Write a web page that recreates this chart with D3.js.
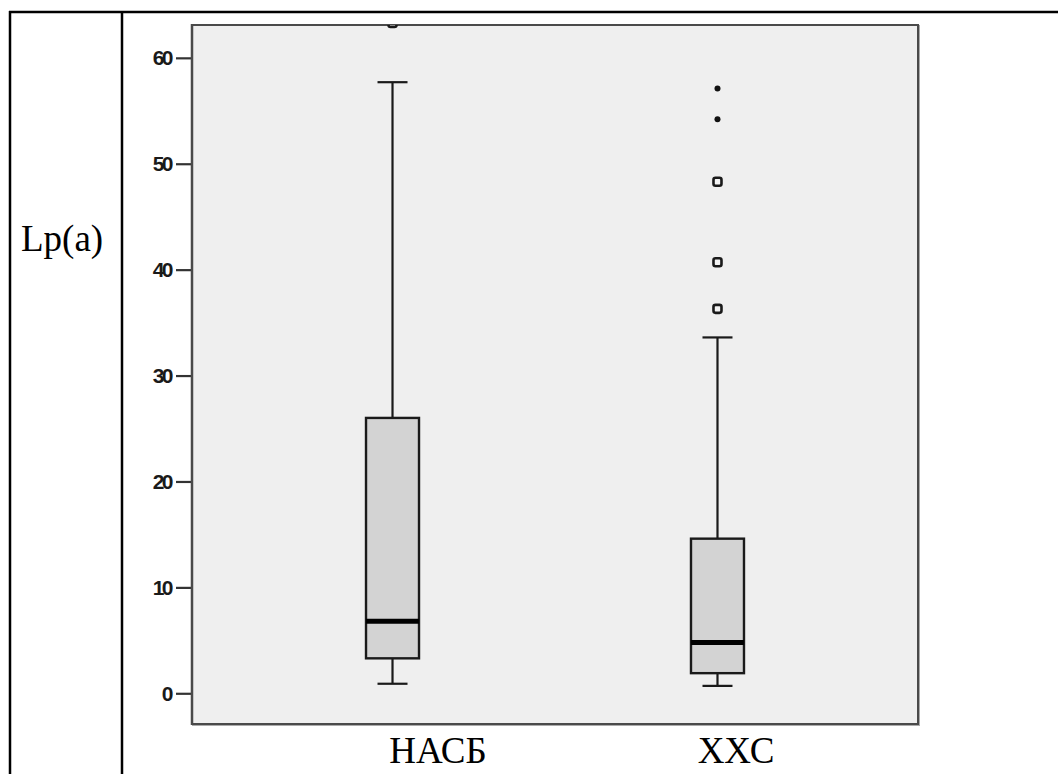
<!DOCTYPE html>
<html>
<head>
<meta charset="utf-8">
<script src="https://cdn.jsdelivr.net/npm/d3@7"></script>
<style>
  body { margin: 0; background: #fff; }
  svg { display: block; }
</style>
</head>
<body>
<svg id="chart" width="1058" height="774"></svg>
<script>
// data
var groups = ["НАСБ", "ХХС"];
var whiskerLow = [0.9, 0.7];
var q1 = [3.3, 1.9];
var median = [6.8, 4.8];
var q3 = [26.0, 14.6];
var whiskerHigh = [57.7, 33.6];
var outliers = [[63.3], [48.3, 40.7, 36.3]];   // circles
var extremes = [[], [57.1, 54.2]];             // stars
var yTicks = [0, 10, 20, 30, 40, 50, 60];

var svg = d3.select("#chart");

// table lines around the figure
svg.append("line").attr("x1", 9).attr("x2", 1058).attr("y1", 12).attr("y2", 12)
    .attr("stroke", "#000").attr("stroke-width", 2.5);
[10, 122].forEach(function(x) {
    svg.append("line").attr("x1", x).attr("x2", x).attr("y1", 11).attr("y2", 774)
        .attr("stroke", "#000").attr("stroke-width", 2.5);
});

svg.append("text")
    .attr("x", 21).attr("y", 251)
    .attr("font-family", "Liberation Serif, Times New Roman, serif")
    .attr("font-size", 37)
    .text("Lp(a)");

// plot frame (note: "top" is a reserved window prop, so prefixed names)
var pLeft = 192, pRight = 918, pTop = 25, pBottom = 724;

var y = d3.scaleLinear().domain([-2.9, 63.1]).range([pBottom, pTop]);
var x = d3.scalePoint().domain(groups).range([pLeft, pRight]).padding(0.617);

svg.append("defs").append("clipPath").attr("id", "plotclip")
    .append("rect").attr("x", pLeft).attr("y", pTop)
    .attr("width", pRight - pLeft).attr("height", pBottom - pTop);

svg.append("rect")
    .attr("x", pLeft + 1).attr("y", pTop + 1)
    .attr("width", pRight - pLeft).attr("height", pBottom - pTop)
    .attr("fill", "none").attr("stroke", "#aaa").attr("stroke-width", 2);
svg.append("rect")
    .attr("x", pLeft).attr("y", pTop)
    .attr("width", pRight - pLeft).attr("height", pBottom - pTop)
    .attr("fill", "#efefef").attr("stroke", "#4a4a4a").attr("stroke-width", 2);

var plot = svg.append("g").attr("clip-path", "url(#plotclip)");

var boxW = 53, capW = 30;

groups.forEach(function(g, i) {
    var cx = x(g);
    // whiskers
    plot.append("line").attr("x1", cx).attr("x2", cx)
        .attr("y1", y(whiskerHigh[i])).attr("y2", y(q3[i]))
        .attr("stroke", "#1a1a1a").attr("stroke-width", 2.2);
    plot.append("line").attr("x1", cx).attr("x2", cx)
        .attr("y1", y(q1[i])).attr("y2", y(whiskerLow[i]))
        .attr("stroke", "#1a1a1a").attr("stroke-width", 2.2);
    [whiskerHigh[i], whiskerLow[i]].forEach(function(v) {
        plot.append("line").attr("x1", cx - capW / 2).attr("x2", cx + capW / 2)
            .attr("y1", y(v)).attr("y2", y(v))
            .attr("stroke", "#1a1a1a").attr("stroke-width", 2.2);
    });
    // box
    plot.append("rect")
        .attr("x", cx - boxW / 2).attr("y", y(q3[i]))
        .attr("width", boxW).attr("height", y(q1[i]) - y(q3[i]))
        .attr("fill", "#d3d3d3").attr("stroke", "#1a1a1a").attr("stroke-width", 2.4);
    // median
    plot.append("line").attr("x1", cx - boxW / 2).attr("x2", cx + boxW / 2)
        .attr("y1", y(median[i])).attr("y2", y(median[i]))
        .attr("stroke", "#000").attr("stroke-width", 5);

    plot.selectAll(null).data(outliers[i]).enter().append("rect")
        .attr("x", cx - 4).attr("y", function(d) { return y(d) - 4; })
        .attr("width", 8).attr("height", 8).attr("rx", 2)
        .attr("fill", "#f4f4f4").attr("stroke", "#1a1a1a").attr("stroke-width", 2.6);

    plot.selectAll(null).data(extremes[i]).enter().append("circle")
        .attr("cx", cx).attr("cy", function(d) { return y(d); })
        .attr("r", 3)
        .attr("fill", "#111");
});

// y axis
var yAxis = svg.append("g")
    .attr("transform", "translate(" + pLeft + ",0)")
    .call(d3.axisLeft(y).tickValues(yTicks).tickSize(16).tickPadding(5));
yAxis.select(".domain").remove();
yAxis.selectAll(".tick line").attr("stroke", "#333").attr("stroke-width", 2.2);
yAxis.selectAll(".tick text")
    .attr("font-family", "Liberation Sans Narrow, Liberation Sans, Arial, sans-serif")
    .attr("font-size", 21).attr("font-weight", "bold")
    .attr("letter-spacing", -2.5)
    .attr("fill", "#1a1a1a");
svg.append("line").attr("x1", pLeft).attr("x2", pLeft).attr("y1", pTop - 1).attr("y2", pBottom + 1)
    .attr("stroke", "#4a4a4a").attr("stroke-width", 2.5);

// category labels below the plot
svg.selectAll(".cat").data(groups).enter().append("text")
    .attr("class", "cat")
    .attr("x", function(d, i) { return [438, 736][i]; })
    .attr("y", 763)
    .attr("text-anchor", "middle")
    .attr("font-family", "Liberation Serif, Times New Roman, serif")
    .attr("font-size", 37)
    .text(function(d) { return d; });
</script>
</body>
</html>
